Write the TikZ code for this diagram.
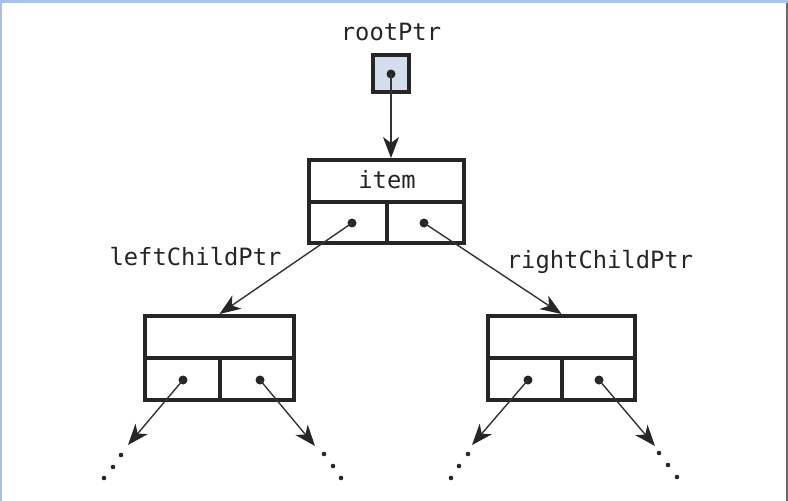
\documentclass[tikz,border=0pt]{standalone}
\usepackage{fontspec}
\newfontfamily\ptrfont{DejaVu Sans Mono}
\usetikzlibrary{arrows.meta}

\definecolor{boxline}{HTML}{262626}
\definecolor{ptrline}{HTML}{333333}
\definecolor{rootfill}{HTML}{D4DCEE}
\definecolor{framebl}{HTML}{A9C2E6}

\tikzset{
  cell/.style={draw=boxline, line width=4pt, inner sep=0pt},
  ptr/.style={draw=ptrline, line width=1.4pt, -{Stealth[length=21pt,width=16pt,inset=6pt,color=boxline]}},
  lbl/.style={anchor=base, inner sep=0pt, text=boxline, font=\ptrfont\fontsize{23.8}{28}\selectfont}
}

\begin{document}
\begin{tikzpicture}[x=1pt,y=-1pt]

\useasboundingbox (0,0) rectangle (788,501);
\fill [framebl] (0,0) rectangle (788,3);
\fill [framebl] (0,0) rectangle (2,501);
\draw [color=gray!80!black, line width=2pt] (787,3) -- (787,501);

% root pointer
\node [lbl] (rootlbl) at (391,40) {rootPtr};
\node [cell, fill=rootfill, minimum width=36pt, minimum height=37pt] (root) at (391,73.5) {};

% item node
\node [cell, minimum width=155pt, minimum height=42pt] (item) at (386.5,181) {};
\node [cell, minimum width=78pt, minimum height=41pt] (itemL) at (348,222.5) {};
\node [cell, minimum width=77pt, minimum height=41pt] (itemR) at (425.5,222.5) {};
\node [lbl] (itemtxt) at (387,188) {item};

% children
\node [cell, minimum width=149pt, minimum height=42pt] (lt) at (219.5,337) {};
\node [cell, minimum width=75pt, minimum height=42pt] (ltL) at (182.5,379) {};
\node [cell, minimum width=74pt, minimum height=42pt] (ltR) at (257,379) {};

\node [cell, minimum width=147pt, minimum height=42pt] (rt) at (561.5,337) {};
\node [cell, minimum width=74pt, minimum height=42pt] (rtL) at (525,379) {};
\node [cell, minimum width=73pt, minimum height=42pt] (rtR) at (598.5,379) {};

\node [lbl] (leftlbl) at (195.5,265) {leftChildPtr};
\node [lbl] (rightlbl) at (600,268) {rightChildPtr};

% pointer dots
\coordinate (rootdot) at (391,74);
\coordinate (itemLdot) at (352,223);
\coordinate (itemRdot) at (424,223);
\coordinate (ltLdot) at (183,380);
\coordinate (ltRdot) at (260,380);
\coordinate (rtLdot) at (528,380);
\coordinate (rtRdot) at (599,380);

\foreach \i in {rootdot,itemLdot,itemRdot,ltLdot,ltRdot,rtLdot,rtRdot}
    \fill [boxline] (\i) circle (4.5pt);

% pointers
\draw [ptr] (rootdot) -- (rootdot |- item.north);
\draw [ptr] (itemLdot) -- (lt.north);
\draw [ptr] (itemRdot) -- (rt.north);

\coordinate (a1) at (128,445);
\coordinate (a2) at (315,446);
\coordinate (a3) at (472,445);
\coordinate (a4) at (655,446);

\draw [ptr] (ltLdot) -- (a1);
\draw [ptr] (ltRdot) -- (a2);
\draw [ptr] (rtLdot) -- (a3);
\draw [ptr] (rtRdot) -- (a4);

% more of the tree
\foreach \x/\y in {121/455,113/467,104/478, 324/454,333/466,341/478,
                   468/454,459/466,451/478, 659/453,668/465,677/477}
    \fill [boxline] (\x,\y) circle (2.3pt);

\end{tikzpicture}
\end{document}
